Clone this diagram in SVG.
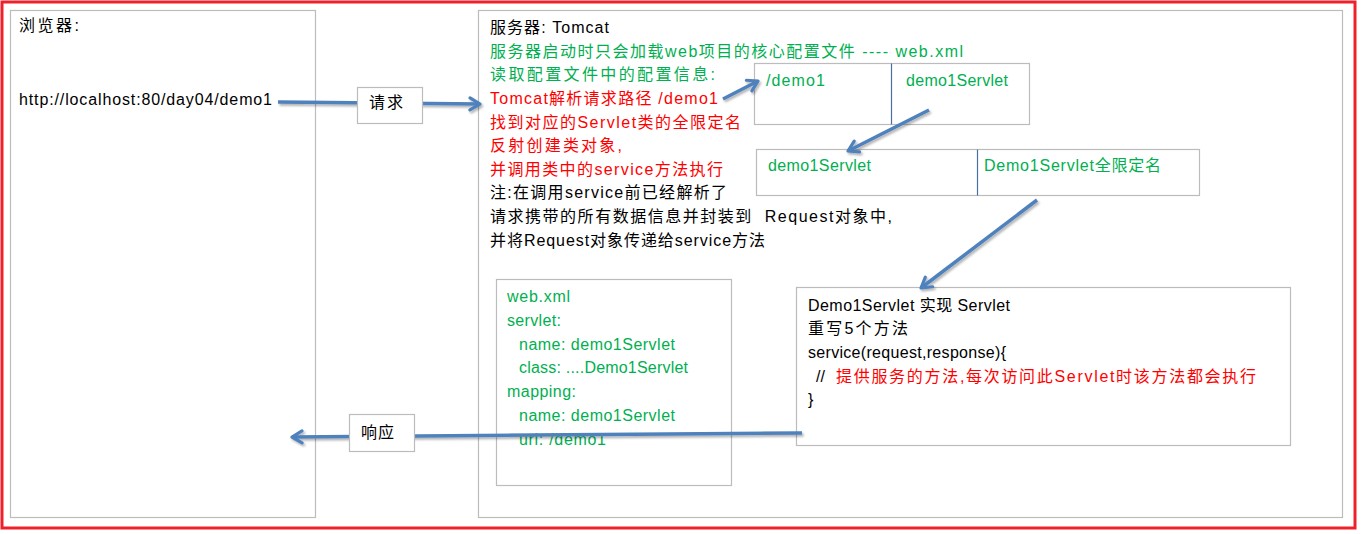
<svg xmlns="http://www.w3.org/2000/svg" width="1362" height="534" viewBox="0 0 1362 534">
<style>
text{font-family:"Liberation Sans","Noto Sans CJK SC",sans-serif;font-size:16px;fill:#000}
.g{fill:#00b050}
.r{fill:#ff0000}
.box{fill:#fff;stroke:#bcbcbc;stroke-width:1.2}
.div{stroke:#4a6fa5;stroke-width:1.2}
.arr{stroke:#4f81bd;stroke-width:3.5;fill:none;marker-end:url(#ah)}
</style>
<defs>
<marker id="ah" viewBox="0 0 16 16" refX="13" refY="8" markerWidth="16" markerHeight="16" orient="auto" markerUnits="userSpaceOnUse">
<path d="M3,2 L13,8 L3,14" fill="none" stroke="#4f81bd" stroke-width="3.2" stroke-linejoin="round" stroke-linecap="round"/>
</marker>
<filter id="sh" filterUnits="userSpaceOnUse" x="0" y="0" width="1362" height="534">
<feDropShadow dx="1.5" dy="2" stdDeviation="1.2" flood-color="#000" flood-opacity="0.3"/>
</filter>
</defs>
<rect x="2" y="2" width="1353" height="526" fill="#fff" stroke="#f0202a" stroke-width="3"/>
<g id="browser">
<rect class="box" x="10.5" y="10.5" width="305" height="507"/>
<text x="19" y="31" textLength="60">浏览器:</text>
<text x="19" y="105" textLength="253">http://localhost:80/day04/demo1</text>
</g>
<g id="server">
<rect class="box" x="478.5" y="10.5" width="864" height="507"/>
<text x="490" y="33" textLength="119">服务器: Tomcat</text>
<text class="g" x="490" y="56.5" textLength="473">服务器启动时只会加载web项目的核心配置文件 ---- web.xml</text>
<text class="g" x="490" y="80" textLength="225">读取配置文件中的配置信息:</text>
<text class="r" x="490" y="104" textLength="228">Tomcat解析请求路径 /demo1</text>
<text class="r" x="490" y="128" textLength="251">找到对应的Servlet类的全限定名</text>
<text class="r" x="490" y="151" textLength="132">反射创建类对象,</text>
<text class="r" x="490" y="175" textLength="233">并调用类中的service方法执行</text>
<text x="490" y="198" textLength="237">注:在调用service前已经解析了</text>
<text x="490" y="222" textLength="402" xml:space="preserve">请求携带的所有数据信息并封装到  Request对象中,</text>
<text x="490" y="246" textLength="275">并将Request对象传递给service方法</text>
</g>
<g id="mapping-table">
<rect class="box" x="754.5" y="63.5" width="275" height="61"/>
<line class="div" x1="891.5" y1="63.5" x2="891.5" y2="124.5"/>
<text class="g" x="766" y="86" textLength="59">/demo1</text>
<text class="g" x="906" y="86" textLength="102">demo1Servlet</text>
</g>
<g id="servlet-table">
<rect class="box" x="756.5" y="149.5" width="443" height="46"/>
<line class="div" x1="977.5" y1="149.5" x2="977.5" y2="195.5"/>
<text class="g" x="768" y="171" textLength="103">demo1Servlet</text>
<text class="g" x="984" y="171" textLength="177">Demo1Servlet全限定名</text>
</g>
<g id="webxml">
<rect class="box" x="496.5" y="279.5" width="235" height="206"/>
<text class="g" x="507" y="302" textLength="63">web.xml</text>
<text class="g" x="507" y="326" textLength="54">servlet:</text>
<text class="g" x="519" y="350" textLength="156">name: demo1Servlet</text>
<text class="g" x="519" y="373" textLength="169">class: ....Demo1Servlet</text>
<text class="g" x="507" y="397" textLength="69">mapping:</text>
<text class="g" x="519" y="421" textLength="156">name: demo1Servlet</text>
<text class="g" x="519" y="445" textLength="87">uri: /demo1</text>
</g>
<g id="demo1servlet">
<rect class="box" x="796.5" y="287.5" width="494" height="158"/>
<text x="808" y="311" textLength="202">Demo1Servlet 实现 Servlet</text>
<text x="808" y="334" textLength="100">重写5个方法</text>
<text x="808" y="358" textLength="198">service(request,response){</text>
<text x="816" y="382">//</text>
<text class="r" x="836" y="382" textLength="420">提供服务的方法,每次访问此Servlet时该方法都会执行</text>
<text x="808" y="405">}</text>
</g>
<g id="connectors" filter="url(#sh)">
<line class="arr" x1="278" y1="102" x2="480" y2="104"/>
<line class="arr" x1="723" y1="99" x2="758" y2="81"/>
<line class="arr" x1="929" y1="110" x2="848" y2="151"/>
<line class="arr" x1="1037" y1="200" x2="921" y2="288"/>
<line class="arr" x1="802" y1="433" x2="292" y2="437"/>
</g>
<g id="label-request">
<rect class="box" x="357.5" y="87.5" width="65" height="36"/>
<text x="369" y="108" textLength="34">请求</text>
</g>
<g id="label-response">
<rect class="box" x="349.5" y="414.5" width="65" height="37"/>
<text x="361" y="438" textLength="33">响应</text>
</g>
</svg>
